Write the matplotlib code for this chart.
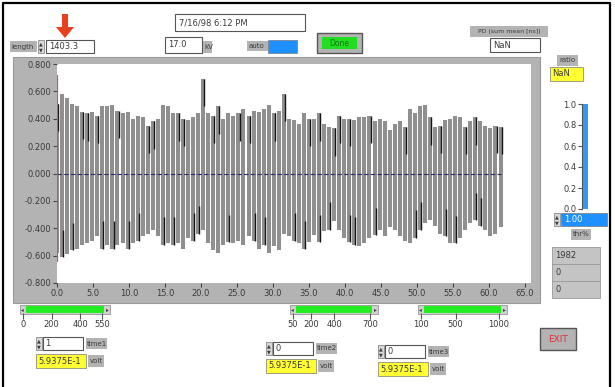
import matplotlib
matplotlib.use("Agg")
import matplotlib.pyplot as plt
import numpy as np
from matplotlib.patches import Rectangle, Polygon

W, H = 615, 387

# %% waveform: top / bottom of each stroke (volt)
high = [0.51, 0.58, 0.55, 0.51, 0.49, 0.45, 0.44, 0.45, 0.42, 0.49, 0.49, 0.50, 0.46, 0.44, 0.45, 0.40, 0.42, 0.41, 0.35, 0.38, 0.40, 0.50, 0.49,
        0.44, 0.44, 0.40, 0.39, 0.41, 0.44, 0.69, 0.44, 0.42, 0.49, 0.40, 0.44, 0.42, 0.44, 0.47, 0.42, 0.46, 0.45, 0.47, 0.50, 0.44, 0.46,
        0.58, 0.40, 0.39, 0.36, 0.44, 0.40, 0.40, 0.44, 0.36, 0.34, 0.33, 0.42, 0.40, 0.40, 0.39, 0.41, 0.41, 0.42, 0.38, 0.40, 0.38,
        0.32, 0.36, 0.38, 0.34, 0.47, 0.44, 0.49, 0.50, 0.41, 0.34, 0.35, 0.39, 0.40, 0.42, 0.41, 0.34, 0.38, 0.41, 0.38, 0.35, 0.33, 0.35, 0.34]
low = [-0.58, -0.61, -0.59, -0.56, -0.55, -0.52, -0.51, -0.49, -0.46, -0.55, -0.52, -0.55, -0.52, -0.51, -0.55, -0.51, -0.49, -0.46, -0.44, -0.41, -0.46, -0.52, -0.51,
       -0.52, -0.51, -0.55, -0.47, -0.49, -0.44, -0.41, -0.51, -0.56, -0.58, -0.52, -0.50, -0.51, -0.49, -0.52, -0.46, -0.49, -0.55, -0.52, -0.58, -0.53, -0.56,
       -0.44, -0.46, -0.49, -0.51, -0.55, -0.50, -0.45, -0.50, -0.42, -0.41, -0.35, -0.41, -0.47, -0.50, -0.52, -0.53, -0.51, -0.47, -0.45, -0.41, -0.46,
       -0.39, -0.41, -0.46, -0.49, -0.51, -0.47, -0.41, -0.36, -0.34, -0.38, -0.44, -0.46, -0.51, -0.51, -0.47, -0.41, -0.36, -0.34, -0.38, -0.41, -0.46, -0.44, -0.39]
t_step = 0.70
# strokes that show a dark trace at the top / bottom
dark_top = [0, 5, 6, 8, 12, 18, 19, 24, 25, 29, 31, 32, 36, 38, 43, 45, 50, 52, 55, 56, 58, 62, 69, 74, 76, 81, 83, 87, 88]
dark_bot = [1, 3, 9, 11, 14, 16, 21, 23, 27, 28, 34, 39, 41, 47, 49, 52, 54, 58, 59, 63, 71, 72, 77, 79, 83, 84]
cursor_lo, cursor_hi = -0.65, 0.72

y_ticks = [0.8, 0.6, 0.4, 0.2, 0.0, -0.2, -0.4, -0.6, -0.8]
y_labels = ["0.800", "0.600", "0.400", "0.200", "0.000", "-0.200", "-0.400", "-0.600", "-0.800"]
x_ticks = [0, 5, 10, 15, 20, 25, 30, 35, 40, 45, 50, 55, 60, 65]
x_labels = ["0.0", "5.0", "10.0", "15.0", "20.0", "25.0", "30.0", "35.0", "40.0", "45.0", "50.0", "55.0", "60.0", "65.0"]

slider1_ticks, slider1_range = [0, 200, 400, 550], (0, 550)
slider2_ticks, slider2_range = [50, 200, 400, 700], (50, 700)
slider3_ticks, slider3_range = [100, 500, 1000], (100, 1000)
thr_ticks = [0.0, 0.2, 0.4, 0.6, 0.8, 1.0]
thr_value = 1.00

plt.rcParams["font.family"] = ["DejaVu Sans"]
GRAY = "#b3b3b3"
TXT = "#3a3a3a"
FS = 6


def fax(x0, y0, x1, y1):
    # pixel box -> figure axes
    return fig.add_axes([x0 / W, 1 - y1 / H, (x1 - x0) / W, (y1 - y0) / H])


fig = plt.figure(figsize=(W / 100, H / 100), dpi=100)
fig.patch.set_facecolor("white")

ui = fig.add_axes([0, 0, 1, 1])
ui.set_xlim(0, W)
ui.set_ylim(H, 0)
ui.axis("off")


def box(x, y, w, h, fc, ec="#6a6a6a", lw=0.8, z=1):
    ui.add_patch(Rectangle((x, y), w, h, fc=fc, ec=ec, lw=lw, zorder=z))


def txt(x, y, s, ha="left", color=TXT, size=FS, **kw):
    ui.text(x, y, s, ha=ha, va="center", color=color, fontsize=size, zorder=5, **kw)


# window frame
ui.plot([3, 3, 610, 610], [H, 3, 3, H], color="black", lw=1.6)

# graph frame
box(13, 57, 527, 246, GRAY, ec="#9a9a9a")

# top controls
ui.add_patch(Polygon([[62, 14], [68, 14], [68, 27], [74, 27], [65, 38], [56, 27], [62, 27]],
                     fc="#e8401c", ec="none", zorder=6))
box(10, 41, 27, 11, GRAY, ec="none")
txt(11, 46.5, "length", size=5)
box(38, 40, 6, 13, "#d8d8d8", ec="#777", lw=0.5)
txt(41, 43.5, "▲", ha="center", size=3.5)
txt(41, 49.5, "▼", ha="center", size=3.5)
box(46, 40, 48, 13, "white", ec="#555")
txt(49, 46.5, "1403.3")

box(175, 14, 130, 17, "white", ec="#555")
txt(179, 22.5, "7/16/98 6:12 PM")
box(165, 37, 37, 16, "white", ec="#555")
txt(168, 44.5, "17.0")
box(203, 41, 9, 12, GRAY, ec="none")
txt(204, 47, "kV", size=5)
box(247, 41, 21, 10, GRAY, ec="none")
txt(249, 46, "auto", size=5)
box(268, 40, 29, 13, "#1e90ff", ec="#777", lw=0.5)
box(317, 33, 45, 20, GRAY, ec="#555", lw=1.0)
box(322, 37, 35, 12, "#22dd22", ec="none", z=2)
txt(339.5, 43, "Done", ha="center", color="#127712", size=5.5)

box(470, 26, 78, 11, GRAY, ec="none")
txt(509, 31.5, "PD (sum mean [ns])", ha="center", size=4.5)
box(490, 38, 50, 14, "white", ec="#555")
txt(493, 45, "NaN")

# right side controls
box(557, 55, 21, 11, GRAY, ec="none")
txt(567.5, 60.5, "ratio", ha="center", size=5)
box(550, 67, 33, 14, "#ffff33", ec="#777", lw=0.5)
txt(552, 74, "NaN")

thr = fax(582, 104, 588, 209)
thr.set_xlim(0, 1)
thr.set_ylim(0, 1)
thr.bar(0.5, thr_value, width=1, color="#3399ee")
thr.set_yticks(thr_ticks)
thr.set_yticklabels([f"{v:.1f}" for v in thr_ticks])
thr.tick_params(axis="y", length=3, pad=1, labelsize=FS, labelcolor=TXT, color="#555")
thr.set_xticks([])
for s in ["top", "right", "bottom"]:
    thr.spines[s].set_visible(False)
thr.spines["left"].set_color("#555")

box(554, 213, 6, 13, "#d8d8d8", ec="#777", lw=0.5)
txt(557, 216.5, "▲", ha="center", size=3.5)
txt(557, 222.5, "▼", ha="center", size=3.5)
box(561, 213, 46, 13, "#1e90ff", ec="#777", lw=0.5)
txt(564, 219.5, f"{thr_value:.2f}", color="white")
box(571, 229, 20, 11, GRAY, ec="none")
txt(581, 234.5, "thr%", ha="center", size=5)
for i, s in enumerate(["1982", "0", "0"]):
    box(552, 247 + i * 17, 48, 17, "#c4c4c4", ec="#999", lw=0.6)
    txt(555, 255.5 + i * 17, s)

# bottom sliders
for (x0, x1), ticks, rng in [((20, 110), slider1_ticks, slider1_range),
                             ((290, 378), slider2_ticks, slider2_range),
                             ((418, 507), slider3_ticks, slider3_range)]:
    box(x0, 305, x1 - x0, 9, "#d0d0d0", ec="#888", lw=0.5)
    box(x0 + 6, 306, x1 - x0 - 12, 7, "#22ee22", ec="none", z=2)
    txt(x0 + 2.5, 309.5, "◂", ha="center", size=4)
    txt(x1 - 2.5, 309.5, "▸", ha="center", size=4)
    sc = fax(x0 + 3, 318, x1 - 8, 318.5)
    sc.set_xlim(*rng)
    sc.set_ylim(0, 1)
    sc.set_xticks(ticks)
    sc.set_xticklabels([str(v) for v in ticks])
    sc.tick_params(axis="x", length=4, pad=1, labelsize=FS, labelcolor=TXT, color="#555", direction="in")
    sc.set_yticks([])
    for s in sc.spines.values():
        s.set_visible(False)
    sc.patch.set_visible(False)

# numeric indicators under sliders
for (xs, ys), val, name in [((36, 337), "1", "time1"), ((266, 342), "0", "time2"), ((378, 345), "0", "time3")]:
    box(xs, ys, 6, 13, "#d8d8d8", ec="#777", lw=0.5)
    txt(xs + 3, ys + 3.5, "▲", ha="center", size=3.5)
    txt(xs + 3, ys + 9.5, "▼", ha="center", size=3.5)
    box(xs + 7, ys, 40, 13, "white", ec="#555")
    txt(xs + 9, ys + 6.5, val)
    box(xs + 50, ys + 1, 21, 11, GRAY, ec="none")
    txt(xs + 60.5, ys + 6.5, name, ha="center", size=5)
    box(xs, ys + 17, 50, 14, "#ffff33", ec="#777", lw=0.5)
    txt(xs + 2, ys + 24, "5.9375E-1")
    box(xs + 52, ys + 18, 16, 12, GRAY, ec="none")
    txt(xs + 60, ys + 24, "volt", ha="center", size=5)

box(540, 328, 36, 22, GRAY, ec="#555", lw=1.0)
txt(558, 339, "EXIT", ha="center", color="#e03030", size=6.5)

# %% waveform graph
ax = fax(57, 64, 531, 283)
ax.set_facecolor("white")
ax.set_xlim(0, (531 - 57) / 7.2)
ax.set_ylim(-0.8, 0.8)

t = np.arange(len(high)) * t_step
hi = np.array(high)
lo = np.array(low)
ax.vlines(t, lo, hi, color="#8f8f8f", lw=2.9, zorder=2)
ax.vlines(t[dark_top] + 0.15, hi[dark_top] - 0.2, hi[dark_top], color="#151515", lw=1.0, zorder=3)
ax.vlines(t[dark_bot] + 0.15, lo[dark_bot], lo[dark_bot] + 0.2, color="#151515", lw=1.0, zorder=3)
ax.plot([0, t[-1]], [0, 0], color="#2a2a70", lw=0.8, ls=(0, (4, 2)), zorder=4)
ax.vlines(0, cursor_lo, cursor_hi, color="#e05050", lw=1.6, zorder=5)

ax.set_yticks(y_ticks)
ax.set_yticklabels(y_labels)
ax.set_xticks(x_ticks)
ax.set_xticklabels(x_labels)
ax.tick_params(length=3, pad=1, labelsize=FS, labelcolor=TXT, color="#444")
for s in ax.spines.values():
    s.set_visible(False)

fig.savefig("out.png", dpi=100, facecolor="white")
